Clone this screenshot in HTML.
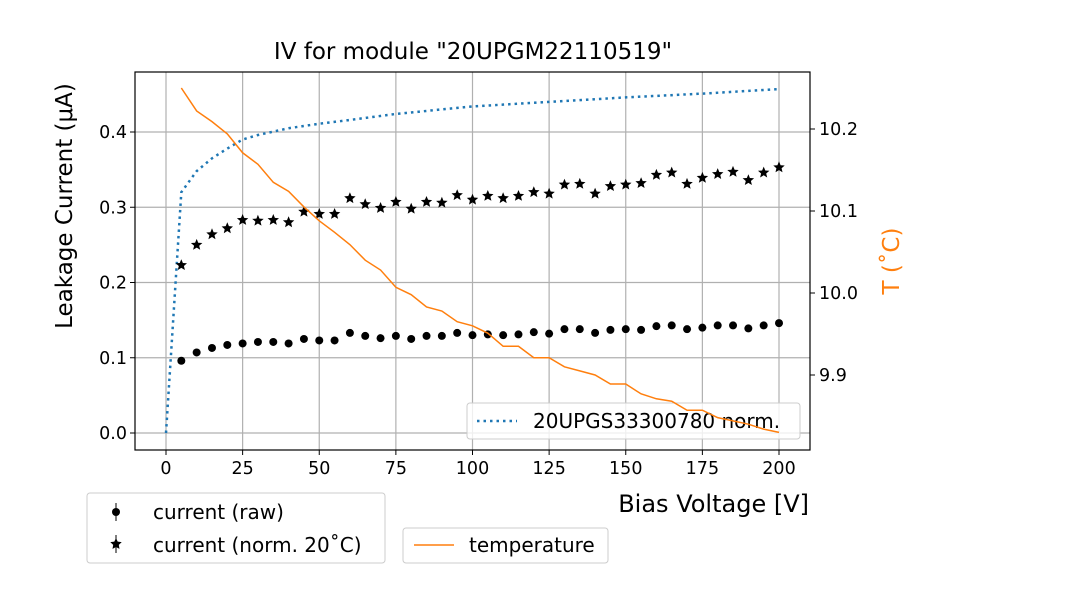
<!DOCTYPE html>
<html><head><meta charset="utf-8"><style>
body{margin:0;background:#fff}
svg text{font-family:"DejaVu Sans","Liberation Sans",sans-serif;fill:#000}
</style></head><body>
<svg id="c" width="1080" height="600" xmlns="http://www.w3.org/2000/svg">
<g id="lg">
<rect x="467" y="403" width="333" height="36" rx="3" fill="#fff" fill-opacity="0.8" stroke="#ccc"/>
<line x1="477" x2="517" y1="421" y2="421" stroke="#1f77b4" stroke-width="2.5" stroke-dasharray="2.5,4"/>
<text x="533" y="428" font-size="20">20UPGS33300780 norm.</text></g>
</svg>
<script>
const voltages=[5,10,15,20,25,30,35,40,45,50,55,60,65,70,75,80,85,90,95,100,105,110,115,120,125,130,135,140,145,150,155,160,165,170,175,180,185,190,195,200];
const rawCurrent=[0.096,0.107,0.113,0.117,0.119,0.121,0.121,0.119,0.125,0.123,0.123,0.133,0.129,0.126,0.129,0.125,0.129,0.129,0.133,0.130,0.131,0.130,0.131,0.134,0.132,0.138,0.138,0.133,0.137,0.138,0.137,0.142,0.143,0.138,0.140,0.143,0.143,0.139,0.143,0.146];
const normCurrent=[0.223,0.250,0.264,0.272,0.283,0.282,0.283,0.280,0.294,0.291,0.291,0.312,0.304,0.299,0.307,0.298,0.307,0.306,0.316,0.310,0.315,0.312,0.315,0.320,0.318,0.330,0.331,0.318,0.328,0.330,0.332,0.343,0.346,0.331,0.339,0.344,0.347,0.336,0.346,0.353];
const temperature=[10.25,10.222,10.209,10.194,10.171,10.157,10.135,10.124,10.105,10.088,10.074,10.059,10.040,10.028,10.007,9.998,9.983,9.978,9.965,9.960,9.951,9.935,9.935,9.921,9.921,9.910,9.905,9.900,9.889,9.889,9.877,9.871,9.868,9.857,9.857,9.848,9.844,9.840,9.834,9.830];
const refVoltages=[0,5,10,15,20,25,30,40,50,60,75,100,125,150,175,200];
const refCurrent=[0,0.32,0.348,0.365,0.378,0.39,0.396,0.405,0.411,0.416,0.424,0.434,0.44,0.446,0.451,0.457];
const xTicks=[0,25,50,75,100,125,150,175,200];
const yTicks=[0.0,0.1,0.2,0.3,0.4];
const tTicks=[9.9,10.0,10.1,10.2];

const NS="http://www.w3.org/2000/svg",svg=document.getElementById('c'),lg=document.getElementById('lg');
const L=135,R=810,T=72,B=450;
const xs=v=>166+v*(779-166)/200;
const ys=v=>433-v*752.5;
const ts=v=>293-(v-10)*820;
function el(tag,a,after){const e=document.createElementNS(NS,tag);for(const k in a)e.setAttribute(k,a[k]);if(after)svg.appendChild(e);else svg.insertBefore(e,lg);return e;}
function txt(s,a){const e=el('text',a,true);e.textContent=s;return e;}
xTicks.forEach(v=>{const g=el('line',{x1:xs(v),x2:xs(v),y1:T,y2:B,stroke:'#b0b0b0','stroke-width':1.2});


el('line',{x1:xs(v),x2:xs(v),y1:B,y2:B+5,stroke:'#000'});
const t=txt(v,{x:xs(v),y:B+24,'font-size':17.5,'text-anchor':'middle'});

});
yTicks.forEach(v=>{const g=el('line',{x1:L,x2:R,y1:ys(v),y2:ys(v),stroke:'#b0b0b0','stroke-width':1.2});


el('line',{x1:L-5,x2:L,y1:ys(v),y2:ys(v),stroke:'#000'});
const t=txt(v.toFixed(1),{x:L-8,y:ys(v)+6,'font-size':17.5,'text-anchor':'end'});

});
tTicks.forEach(v=>{el('line',{x1:R,x2:R+5,y1:ts(v),y2:ts(v),stroke:'#000'},true);
const t=txt(v.toFixed(1),{x:R+9,y:ts(v)+6,'font-size':17.5});

});
const rl=el('polyline',{points:refVoltages.map((v,i)=>xs(v)+','+ys(refCurrent[i])).join(' '),fill:'none',stroke:'#1f77b4','stroke-width':2.5,'stroke-dasharray':'2.5,4'});


function star(cx,cy,r){let p=[];for(let i=0;i<10;i++){const a=-Math.PI/2+i*Math.PI/5,rr=i%2?r*0.45:r;p.push((cx+rr*Math.cos(a)).toFixed(1)+','+(cy+rr*Math.sin(a)).toFixed(1));}return p.join(' ');}
voltages.forEach((v,i)=>{const c=el('circle',{cx:xs(v),cy:ys(rawCurrent[i]),r:4,fill:'#000'});


const s=el('polygon',{points:star(xs(v),ys(normCurrent[i]),6),fill:'#000'});

});
const tl=el('polyline',{points:voltages.map((v,i)=>xs(v)+','+ts(temperature[i])).join(' '),fill:'none',stroke:'#ff7f0e','stroke-width':1.5},true);


el('rect',{x:L,y:T,width:R-L,height:B-T,fill:'none',stroke:'#000','stroke-width':1.2},true);
</script>
<svg width="1080" height="600" style="position:absolute;left:0;top:0" xmlns="http://www.w3.org/2000/svg">
<text x="473" y="59" font-size="23" text-anchor="middle">IV for module "20UPGM22110519"</text>
<text x="809" y="512" font-size="24" text-anchor="end">Bias Voltage [V]</text>
<text transform="translate(72,206) rotate(-90)" font-size="23" text-anchor="middle">Leakage Current (μA)</text>
<text transform="translate(899,261) rotate(-90)" font-size="23" text-anchor="middle" style="fill:#ff7f0e">T (˚C)</text>
<g>
<rect x="87" y="493" width="298" height="70" rx="3" fill="#fff" stroke="#ccc"/>
<line x1="116" x2="116" y1="503" y2="521" stroke="#000"/><circle cx="116" cy="512" r="4" fill="#000"/>
<text x="153" y="519" font-size="20">current (raw)</text>
<line x1="116" x2="116" y1="535" y2="553" stroke="#000"/><polygon points="116,538 117.7,541.6 121.7,542.1 118.8,544.9 119.5,548.9 116,547 112.5,548.9 113.2,544.9 110.3,542.1 114.3,541.6" fill="#000"/>
<text x="153" y="552" font-size="20">current (norm. 20˚C)</text></g>
<g>
<rect x="403" y="528" width="205" height="35" rx="3" fill="#fff" stroke="#ccc"/>
<line x1="414" x2="454" y1="545" y2="545" stroke="#ff7f0e" stroke-width="1.5"/>
<text x="469" y="552" font-size="20">temperature</text></g>
</svg>
</body></html>
